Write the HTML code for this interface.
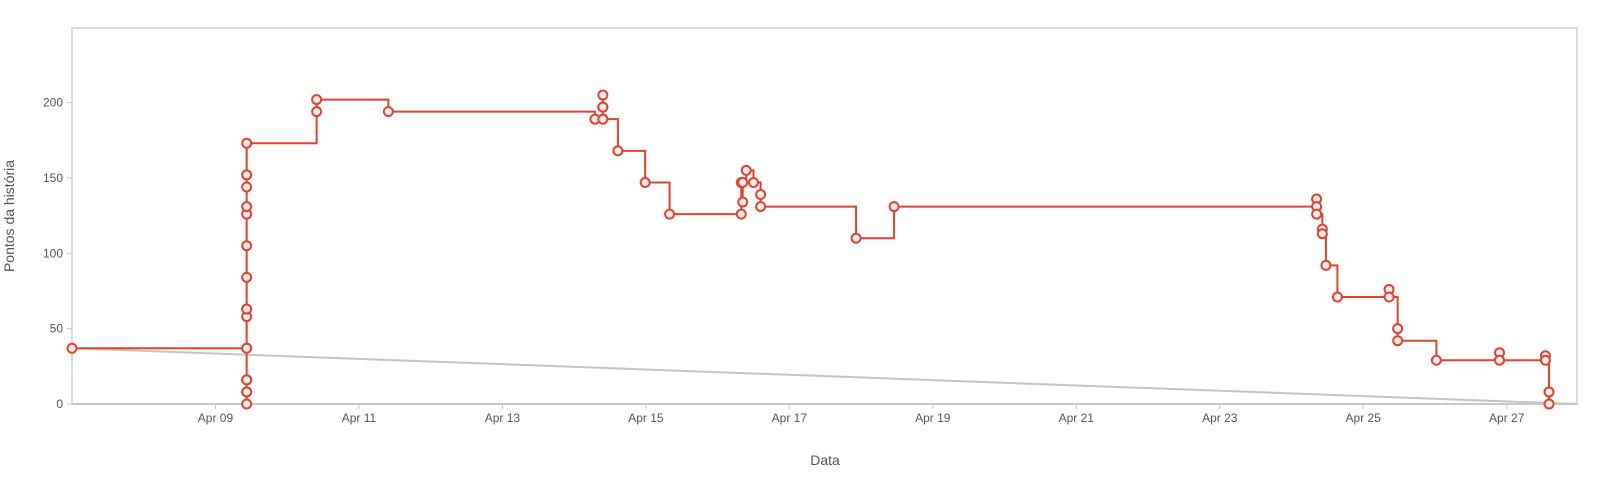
<!DOCTYPE html>
<html><head><meta charset="utf-8"><style>
html,body{margin:0;padding:0;background:#fff;}
svg{display:block;font-family:"Liberation Sans",sans-serif;}
</style></head><body>
<svg id="chart" width="1617" height="500" xmlns="http://www.w3.org/2000/svg">
<rect x="72" y="28" width="1505" height="376" fill="#fff" stroke="#dcdcdc" stroke-width="2"/>
<g id="grid"></g>
<line x1="72" y1="404" x2="1577" y2="404" stroke="#c8c8c8" stroke-width="2"/>
<g id="ideal"></g>
<g id="series"></g>
<g id="xticks"></g>
<g id="yticks"></g>
<text x="14" y="216" transform="rotate(-90 14 216)" text-anchor="middle" font-size="14" fill="#555">Pontos da história</text>
<text x="825" y="465" text-anchor="middle" font-size="14" fill="#555">Data</text>
</svg>
<script>
// days since Apr 07 00:00
const pointDays = [0, 2.435,2.435,2.435,2.435,2.435,2.435,2.435,2.435,2.435,2.435,2.435,2.435,2.435,2.435,2.435,
 3.41,3.41, 4.41, 7.29, 7.40,7.40,7.40,7.40, 7.61, 7.99, 8.33,
 9.33,9.33,9.35,9.35,9.40,9.50,9.60,9.60, 10.93, 11.46,
 17.35,17.35,17.35, 17.43,17.43, 17.48, 17.64, 18.36,18.36, 18.48,18.48, 19.02, 19.90,19.90, 20.54,20.54, 20.59,20.59];
const pointValues = [37, 0,8,8,16,16,37,58,63,84,105,126,131,144,152,173,
 194,202, 194, 189, 197,205,197,189, 168, 147, 126,
 126,147,134,147,155,147,139,131, 110, 131,
 136,131,126, 116,113, 92, 71, 76,71, 50,42, 29, 34,29, 32,29, 8,0];
const idealDays = [0, 20.98];
const idealValues = [37, 0];
const xTickDays = [2,4,6,8,10,12,14,16,18,20];
const xTickLabels = ["Apr 09","Apr 11","Apr 13","Apr 15","Apr 17","Apr 19","Apr 21","Apr 23","Apr 25","Apr 27"];
const yTicks = [0,50,100,150,200];

const X0=72, X1=1577, Y0=404, Y1=28, DMAX=20.98, VMAX=249.5;
const xs = d => X0 + d/DMAX*(X1-X0);
const ys = v => Y0 - v/VMAX*(Y0-Y1);
const NS="http://www.w3.org/2000/svg";
function mk(tag, attrs, parent){const e=document.createElementNS(NS,tag);for(const k in attrs)e.setAttribute(k,attrs[k]);parent.appendChild(e);return e;}

const ig=document.getElementById('ideal');
const il=mk('line',{x1:xs(idealDays[0]),y1:ys(idealValues[0]),x2:xs(idealDays[1]),y2:ys(idealValues[1]),stroke:'#c4c4c4','stroke-width':2},ig);



const sg=document.getElementById('series');
let d='M'+xs(pointDays[0])+' '+ys(pointValues[0]);
for(let i=1;i<pointDays.length;i++){d+=' H'+xs(pointDays[i])+' V'+ys(pointValues[i]);}
const pl=mk('path',{d:d,fill:'none',stroke:'#e5412d','stroke-width':2},sg);


for(let i=0;i<pointDays.length;i++){
  const c=mk('circle',{cx:xs(pointDays[i]),cy:ys(pointValues[i]),r:4.5,fill:'#fdeeee',stroke:'#e5412d','stroke-width':2},sg);
  
  
}

const xg=document.getElementById('xticks');
xTickDays.forEach((t,i)=>{
  const x=xs(t);
  const tk=mk('line',{x1:x,y1:404,x2:x,y2:409,stroke:'#c8c8c8','stroke-width':1},xg);
  
  
  const tx=mk('text',{x:x,y:422,'text-anchor':'middle','font-size':12,fill:'#555'},xg);
  tx.textContent=xTickLabels[i];
  
  
});
const yg=document.getElementById('yticks');
yTicks.forEach(v=>{
  const y=ys(v);
  const tk=mk('line',{x1:67,y1:y,x2:72,y2:y,stroke:'#c8c8c8','stroke-width':1},yg);
  
  
  const tx=mk('text',{x:63,y:y+4,'text-anchor':'end','font-size':12,fill:'#555'},yg);
  tx.textContent=v;
  
  
});
</script>
</body></html>
